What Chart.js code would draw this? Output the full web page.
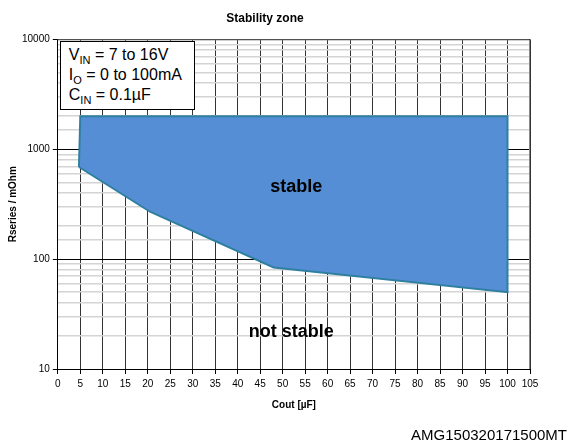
<!DOCTYPE html>
<html>
<head>
<meta charset="utf-8">
<script src="https://cdn.jsdelivr.net/npm/chart.js@4/dist/chart.umd.min.js"></script>
<style>
  body { margin: 0; background: #fff; font-family: "Liberation Sans", Arial, sans-serif; }
  #wrap { position: relative; width: 572px; height: 448px; }
  #conditions {
    position: absolute; background: #fff; border: 1px solid #000;
    font-size: 16px; line-height: 20px; padding: 3px 12px 4px 8px; color: #000;
    white-space: nowrap;
  }
  #conditions sub { font-size: 11px; vertical-align: -4px; line-height: 0; }
  #footer { position: absolute; right: 5px; top: 426px; font-size: 15px; color: #000; }
</style>
</head>
<body>
<div id="wrap">
  <canvas id="stabilityChart" width="572" height="448"></canvas>
  <div id="conditions">
    V<sub>IN</sub> = 7 to 16V<br>
    I<sub>O</sub> = 0 to 100mA<br>
    C<sub>IN</sub> = 0.1µF
  </div>
  <div id="footer">AMG150320171500MT</div>
</div>
<script>
// Stability zone outline (Cout in µF, Rseries in mOhm)
const boundaryCout = [4.7, 20.5, 48, 100, 100, 5, 4.7];
const boundaryRes = [690, 270, 84, 50, 2000, 2000, 690];

const xMin = 0, xMax = 105, xStep = 5;
const yMin = 10, yMax = 10000;

// Region labels
const regionLabels = [
  { text: "stable", x: 53, y: 451 },
  { text: "not stable", x: 51.9, y: 21.7 },
];

function isDecade(v) {
  const l = Math.log10(v);
  return Math.abs(l - Math.round(l)) < 1e-9;
}

const labelsPlugin = {
  id: "regionLabels",
  afterLayout(chart) {
    const box = document.getElementById("conditions");
    box.style.left = chart.chartArea.left + 2 + "px";
    box.style.top = chart.chartArea.top + 2 + "px";
  },
  afterDatasetsDraw(chart) {
    const ctx = chart.ctx;
    const xs = chart.scales.x, ys = chart.scales.y;
    ctx.save();
    ctx.fillStyle = "#000";
    ctx.font = "bold 18px 'Liberation Sans', Arial, sans-serif";
    ctx.textAlign = "center";
    ctx.textBaseline = "middle";
    regionLabels.forEach((l) => {
      ctx.fillText(l.text, xs.getPixelForValue(l.x), ys.getPixelForValue(l.y));
    });
    // plot frame (top/right)
    const a = chart.chartArea;
    ctx.strokeStyle = "#888";
    ctx.lineWidth = 1;
    ctx.beginPath();
    ctx.moveTo(a.left, a.top + 0.5);
    ctx.lineTo(a.right - 0.5, a.top + 0.5);
    ctx.lineTo(a.right - 0.5, a.bottom);
    ctx.stroke();
    ctx.restore();
  },
};

const ctx = document.getElementById("stabilityChart").getContext("2d");
new Chart(ctx, {
  type: "scatter",
  data: {
    datasets: [
      {
        label: "stable",
        data: boundaryCout.map((x, i) => ({ x: x, y: boundaryRes[i] })),
        showLine: true,
        fill: "shape",
        backgroundColor: "#558ed5",
        borderColor: "#2f80a0",
        borderWidth: 2,
        pointRadius: 0,
        tension: 0,
      },
    ],
  },
  options: {
    responsive: false,
    animation: false,
    devicePixelRatio: 1,
    layout: { padding: { left: 0, right: 42, top: 0, bottom: 33 } },
    plugins: {
      legend: { display: false },
      tooltip: { enabled: false },
      title: {
        display: true,
        text: "Stability zone",
        color: "#000",
        font: { size: 12, weight: "bold", family: "'Liberation Sans', Arial, sans-serif" },
        padding: { top: 11, bottom: 14 },
      },
    },
    scales: {
      x: {
        type: "linear",
        min: xMin,
        max: xMax,
        ticks: {
          stepSize: xStep,
          color: "#000",
          font: { size: 10, family: "'Liberation Sans', Arial, sans-serif" },
          padding: 4,
          maxRotation: 0,
        },
        grid: {
          color: (c) => (c.tick && c.tick.value === 0 ? "#000" : "#333"),
          lineWidth: 1,
          tickLength: 5,
          tickColor: "#000",
        },
        border: { color: "#000", width: 1 },
        title: {
          display: true,
          text: "Cout [µF]",
          color: "#000",
          font: { size: 10, weight: "bold", family: "'Liberation Sans', Arial, sans-serif" },
          padding: { top: 5 },
        },
      },
      y: {
        type: "logarithmic",
        min: yMin,
        max: yMax,
        ticks: {
          autoSkip: false,
          color: "#000",
          font: { size: 10, family: "'Liberation Sans', Arial, sans-serif" },
          padding: 3,
          callback: (v) => (isDecade(v) ? String(v) : ""),
        },
        grid: {
          color: (c) => (c.tick && isDecade(c.tick.value) ? "#000" : "#d4d4d4"),
          lineWidth: (c) => (c.tick && isDecade(c.tick.value) ? 1 : 1.5),
          tickLength: 5,
          tickColor: (c) => (c.tick && isDecade(c.tick.value) ? "#000" : "rgba(0,0,0,0)"),
        },
        border: { color: "#000", width: 1 },
        title: {
          display: true,
          text: "Rseries / mOhm",
          color: "#000",
          font: { size: 10, weight: "bold", family: "'Liberation Sans', Arial, sans-serif" },
          padding: { top: 7, bottom: 0 },
        },
      },
    },
  },
  plugins: [labelsPlugin],
});
</script>
</body>
</html>
